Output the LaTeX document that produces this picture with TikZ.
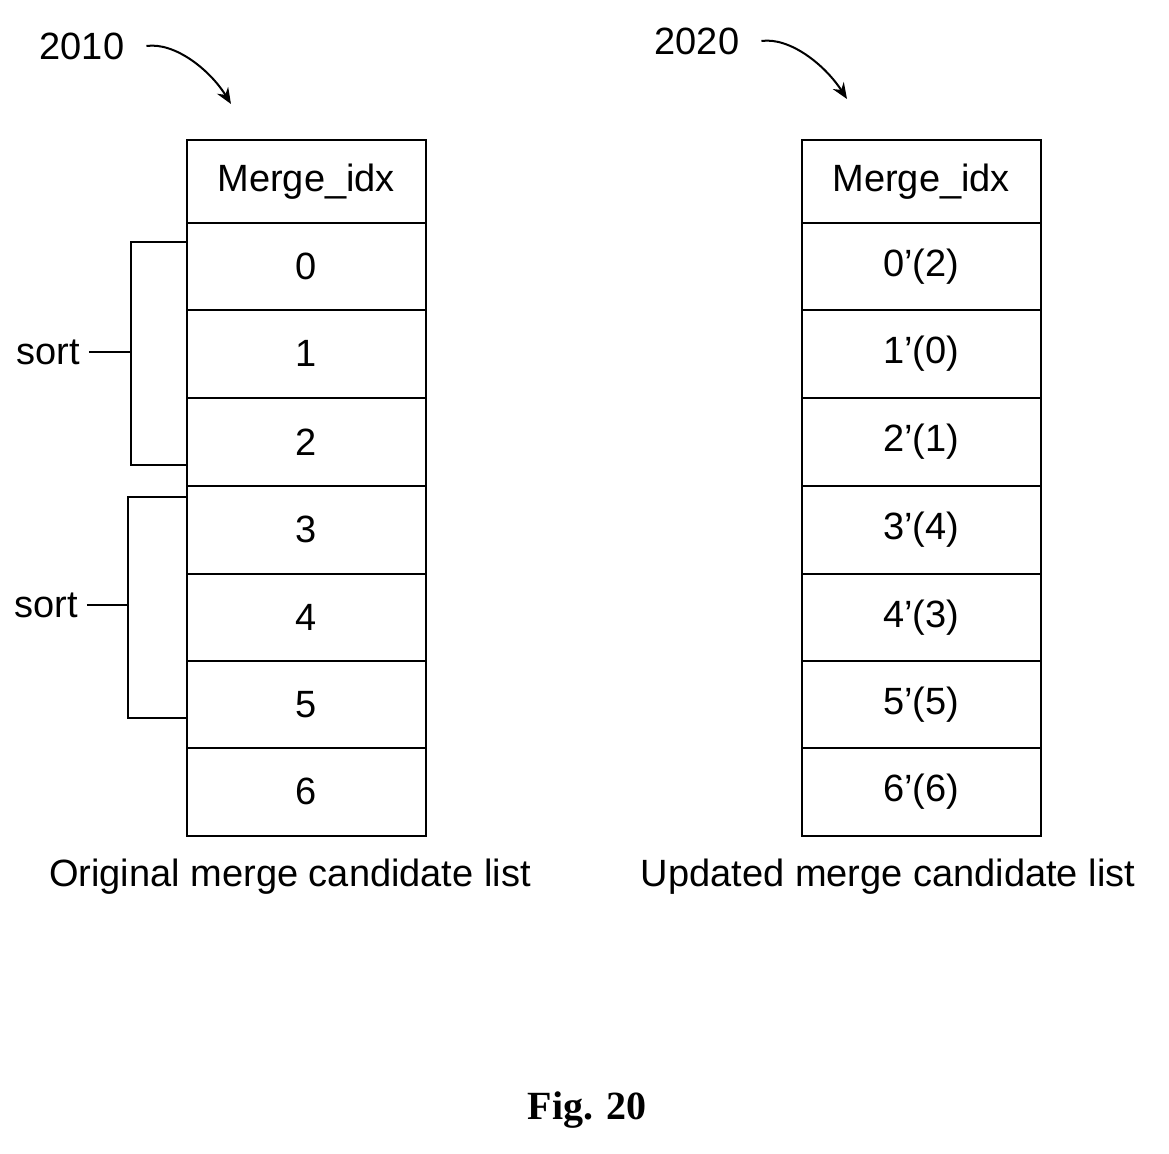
\documentclass[tikz,border=0pt]{standalone}
\usepackage{fontspec}
\setmainfont{Liberation Sans}
\newfontfamily\figfont{Liberation Serif}
\usetikzlibrary{arrows.meta}
\begin{document}
\begin{tikzpicture}[x=1pt,y=-1pt,
  cell/.style={draw,line width=1.5pt,minimum width=239pt,inner sep=0pt,font=\fontsize{38}{38}\selectfont,anchor=north west},
  lbl/.style={font=\fontsize{38}{38}\selectfont,inner sep=0pt},
  brk/.style={line width=1.2pt},
  callout/.style={line width=2pt,-{Stealth[length=16pt,width=13pt]}}]
\useasboundingbox (0,0) rectangle (1169,1153);
\foreach \t/\x in {L/186,R/801}{
  \node[cell,minimum height=83pt] (\t h) at (\x,139) {Merge\_idx};
}
\foreach \i/\y/\h/\a/\b in {0/222/87/0/0'(2),1/309/88/1/1'(0),2/397/88/2/2'(1),3/485/88/3/3'(4),4/573/87/4/4'(3),5/660/87/5/5'(5),6/747/88/6/6'(6)}{
  \node[cell,minimum height=\h pt] (L\i) at (186,\y) {\a};
  \node[cell,minimum height=\h pt] (R\i) at (801,\y) {\b};
}
\node[lbl] (s1) at (48,352) {sort};
\node[lbl] (s2) at (46,605) {sort};
\coordinate (b1a) at (186,242); \coordinate (b1b) at (186,465);
\coordinate (b2a) at (186,497); \coordinate (b2b) at (186,718);
\draw[brk] (b1a) -| (131,465) -- (b1b);
\draw[brk] (s1.east) ++(9,0) -- (131,352);
\draw[brk] (b2a) -| (128,718) -- (b2b);
\draw[brk] (s2.east) ++(9,0) -- (128,605);
\node[lbl] (capL) at (290,877) {Original merge candidate list};
\node[lbl] (capR) at (888,877) {Updated merge candidate list};
\node[lbl] (n1) at (82,46) {2010};
\node[lbl] (n2) at (697,41) {2020};
\coordinate (t1) at (231,104);
\coordinate (t2) at (847,99);
\draw[callout] (n1.east) ++(22,0) .. controls (175,42) and (210,70) .. (t1);
\draw[callout] (n2.east) ++(22,0) .. controls (790,37) and (825,65) .. (t2);
\node[inner sep=0pt,font=\figfont\bfseries\fontsize{40}{40}\selectfont] (fig) at (587,1110) {Fig. 20};
\end{tikzpicture}
\end{document}
